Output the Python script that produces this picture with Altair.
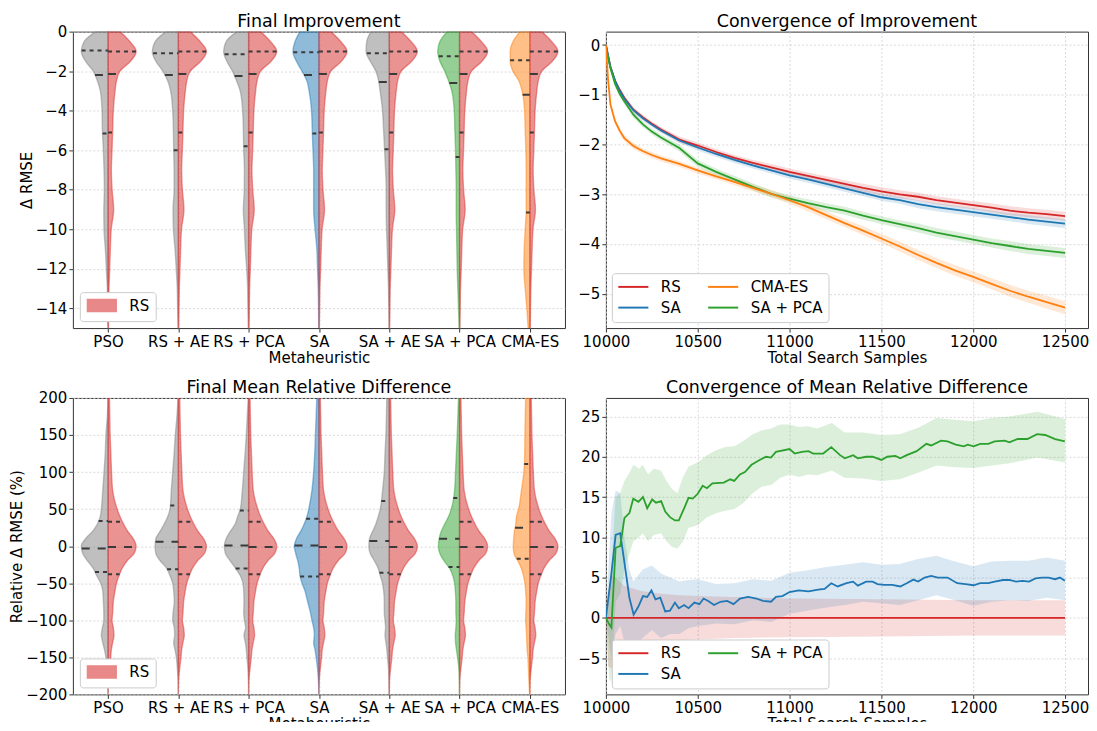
import altair as alt
import numpy as np
import pandas as pd

# ---------------- categories / colours ----------------
METHODS = ["PSO", "RS + AE", "RS + PCA", "SA", "SA + AE", "SA + PCA", "CMA-ES"]
METHOD_COLORS = ["#7f7f7f", "#7f7f7f", "#7f7f7f", "#1f77b4", "#7f7f7f", "#2ca02c", "#ff7f0e"]
RS_COLOR = "#d62728"
SERIES_COLORS = {"RS": "#d62728", "SA": "#1f77b4", "CMA-ES": "#ff7f0e", "SA + PCA": "#2ca02c"}

# ---------------- Final Improvement: violin half-widths (category units) ----------------
IMP_LEVELS = [0, -0.5, -1, -1.5, -2, -2.5, -3, -4, -5, -6, -7, -8, -9, -10, -11, -12, -13, -14, -15]
IMP_RS_W = [0.17, 0.31, 0.40, 0.32, 0.17, 0.12, 0.10, 0.075, 0.066, 0.057, 0.047, 0.058, 0.08, 0.045, 0.033, 0.024, 0.014, 0.01, 0.005]
IMP_PSO_W = [0.175, 0.34, 0.38, 0.32, 0.21, 0.15, 0.11, 0.085, 0.08, 0.066, 0.057, 0.052, 0.06, 0.057, 0.038, 0.024, 0.01, 0.005, 0.0]
IMP_RSAE_W = [0.175, 0.33, 0.37, 0.32, 0.22, 0.15, 0.11, 0.08, 0.07, 0.066, 0.06, 0.06, 0.075, 0.07, 0.047, 0.03, 0.015, 0.01, 0.004]
IMP_RSPCA_W = [0.165, 0.32, 0.355, 0.31, 0.23, 0.17, 0.12, 0.085, 0.075, 0.07, 0.06, 0.062, 0.075, 0.06, 0.047, 0.028, 0.014, 0.01, 0.004]
IMP_SA_W = [0.27, 0.34, 0.37, 0.32, 0.24, 0.17, 0.14, 0.105, 0.095, 0.085, 0.075, 0.075, 0.075, 0.055, 0.03, 0.02, 0.01, 0.005, 0.002]
IMP_SAAE_W = [0.26, 0.32, 0.33, 0.27, 0.19, 0.15, 0.13, 0.095, 0.08, 0.066, 0.052, 0.043, 0.043, 0.038, 0.028, 0.02, 0.01, 0.005, 0.002]
IMP_SAPCA_W = [0.175, 0.28, 0.31, 0.28, 0.21, 0.155, 0.11, 0.075, 0.066, 0.057, 0.052, 0.047, 0.047, 0.043, 0.038, 0.033, 0.024, 0.014, 0.006]
IMP_CMA_W = [0.14, 0.24, 0.28, 0.28, 0.24, 0.155, 0.11, 0.075, 0.066, 0.057, 0.052, 0.052, 0.052, 0.066, 0.08, 0.085, 0.066, 0.043, 0.024]
IMP_W = [IMP_PSO_W, IMP_RSAE_W, IMP_RSPCA_W, IMP_SA_W, IMP_SAAE_W, IMP_SAPCA_W, IMP_CMA_W]
IMP_Q3 = [-0.95, -1.1, -1.15, -1.05, -1.1, -1.25, -1.45]
IMP_MED = [-2.2, -2.2, -2.25, -2.2, -2.55, -2.6, -3.2]
IMP_Q1 = [-5.15, -6.0, -5.8, -5.15, -5.95, -6.35, -9.15]
IMP_RS_Q = [-1.0, -2.15, -5.1]

# ---------------- Final Mean Relative Difference: violin half-widths ----------------
REL_LEVELS = [200, 175, 150, 125, 100, 75, 50, 40, 30, 20, 10, 0, -10, -20, -30, -40, -50, -60, -75, -90, -100, -110, -120, -130, -140, -150, -165, -180, -200]
REL_RS_W = [0.02, 0.025, 0.03, 0.04, 0.05, 0.066, 0.13, 0.17, 0.22, 0.28, 0.36, 0.40, 0.37, 0.27, 0.2, 0.156, 0.12, 0.1, 0.075, 0.066, 0.057, 0.075, 0.085, 0.066, 0.047, 0.038, 0.02, 0.005, 0.0]
REL_PSO_W = [0, 0.01, 0.03, 0.04, 0.057, 0.075, 0.095, 0.11, 0.15, 0.22, 0.32, 0.38, 0.36, 0.29, 0.21, 0.16, 0.104, 0.075, 0.066, 0.06, 0.06, 0.08, 0.095, 0.075, 0.05, 0.03, 0.01, 0, 0]
REL_RSAE_W = [0.005, 0.02, 0.043, 0.06, 0.08, 0.1, 0.118, 0.15, 0.2, 0.26, 0.32, 0.33, 0.32, 0.255, 0.165, 0.118, 0.08, 0.066, 0.057, 0.075, 0.08, 0.057, 0.052, 0.066, 0.047, 0.028, 0.014, 0.004, 0]
REL_RSPCA_W = [0.005, 0.02, 0.033, 0.05, 0.07, 0.09, 0.118, 0.156, 0.19, 0.26, 0.32, 0.345, 0.33, 0.26, 0.185, 0.118, 0.08, 0.07, 0.066, 0.07, 0.06, 0.043, 0.066, 0.047, 0.033, 0.024, 0.01, 0.003, 0]
REL_SA_W = [0.03, 0.04, 0.05, 0.06, 0.075, 0.1, 0.145, 0.17, 0.21, 0.26, 0.32, 0.35, 0.33, 0.3, 0.28, 0.27, 0.24, 0.2, 0.16, 0.12, 0.1, 0.075, 0.065, 0.075, 0.055, 0.04, 0.02, 0.008, 0]
REL_SAAE_W = [0.035, 0.04, 0.047, 0.06, 0.07, 0.095, 0.128, 0.156, 0.19, 0.236, 0.28, 0.29, 0.27, 0.21, 0.156, 0.128, 0.095, 0.08, 0.07, 0.07, 0.06, 0.052, 0.06, 0.047, 0.033, 0.024, 0.01, 0.005, 0.003]
REL_SAPCA_W = [0.014, 0.024, 0.033, 0.045, 0.057, 0.07, 0.118, 0.156, 0.21, 0.26, 0.29, 0.3, 0.28, 0.22, 0.14, 0.095, 0.07, 0.06, 0.052, 0.052, 0.047, 0.052, 0.06, 0.057, 0.043, 0.028, 0.01, 0.003, 0]
REL_CMA_W = [0.06, 0.065, 0.07, 0.073, 0.085, 0.12, 0.16, 0.19, 0.2, 0.22, 0.23, 0.235, 0.225, 0.17, 0.12, 0.09, 0.07, 0.06, 0.052, 0.057, 0.06, 0.052, 0.047, 0.043, 0.038, 0.028, 0.02, 0.014, 0.003]
REL_W = [REL_PSO_W, REL_RSAE_W, REL_RSPCA_W, REL_SA_W, REL_SAAE_W, REL_SAPCA_W, REL_CMA_W]
REL_Q3 = [34, 55, 48, 37, 61, 65, 111]
REL_MED = [-3, 6, 1, 1, 7, 10, 25]
REL_Q1 = [-35, -31, -30, -41, -36, -28, -17]
REL_RS_Q = [33, -1, -38]

# ---------------- Convergence of Improvement ----------------
CONV_X = [10000, 10012, 10025, 10050, 10075, 10100, 10150, 10200, 10250, 10300, 10400, 10500, 10600, 10700, 10800, 10900,
          11000, 11100, 11200, 11300, 11400, 11500, 11600, 11700, 11800, 11900, 12000, 12100, 12200, 12300, 12400, 12500]
CONV_RS = [0, -0.22, -0.44, -0.72, -0.9, -1.06, -1.3, -1.45, -1.58, -1.7, -1.9, -2.02, -2.15, -2.27, -2.37, -2.46,
           -2.55, -2.63, -2.71, -2.79, -2.87, -2.94, -3.0, -3.05, -3.12, -3.17, -3.22, -3.27, -3.33, -3.37, -3.4, -3.44]
CONV_SA = [0, -0.22, -0.44, -0.72, -0.92, -1.08, -1.31, -1.47, -1.6, -1.72, -1.92, -2.06, -2.19, -2.31, -2.42, -2.52,
           -2.62, -2.7, -2.79, -2.88, -2.97, -3.06, -3.12, -3.2, -3.26, -3.31, -3.36, -3.41, -3.46, -3.51, -3.55, -3.59]
CONV_SAPCA = [0, -0.25, -0.47, -0.78, -0.98, -1.13, -1.4, -1.59, -1.74, -1.86, -2.07, -2.38, -2.55, -2.7, -2.85, -2.99,
              -3.09, -3.18, -3.26, -3.33, -3.43, -3.52, -3.6, -3.68, -3.77, -3.84, -3.91, -3.98, -4.04, -4.1, -4.14, -4.18]
CONV_CMA = [0, -0.7, -1.2, -1.53, -1.72, -1.87, -2.03, -2.13, -2.21, -2.28, -2.39, -2.52, -2.64, -2.75, -2.87, -2.99,
            -3.12, -3.26, -3.42, -3.58, -3.73, -3.89, -4.05, -4.22, -4.38, -4.53, -4.66, -4.8, -4.94, -5.06, -5.17, -5.28]
CONV_RS_SD = [0, 0.03, 0.04, 0.05, 0.05, 0.05, 0.05, 0.05, 0.05, 0.05, 0.06, 0.06, 0.06, 0.06, 0.06, 0.07,
              0.07, 0.07, 0.07, 0.07, 0.08, 0.08, 0.08, 0.08, 0.08, 0.08, 0.08, 0.09, 0.09, 0.09, 0.09, 0.09]
CONV_SA_SD = [0, 0.03, 0.04, 0.05, 0.05, 0.05, 0.05, 0.05, 0.05, 0.05, 0.05, 0.06, 0.06, 0.06, 0.06, 0.06,
              0.07, 0.07, 0.07, 0.07, 0.07, 0.07, 0.07, 0.08, 0.08, 0.08, 0.08, 0.08, 0.08, 0.09, 0.09, 0.09]
CONV_SAPCA_SD = [0, 0.03, 0.04, 0.05, 0.06, 0.06, 0.06, 0.06, 0.06, 0.06, 0.07, 0.07, 0.07, 0.07, 0.07, 0.07,
                 0.07, 0.08, 0.08, 0.08, 0.08, 0.08, 0.08, 0.09, 0.09, 0.09, 0.09, 0.09, 0.1, 0.1, 0.1, 0.1]
CONV_CMA_SD = [0, 0.05, 0.06, 0.06, 0.06, 0.06, 0.06, 0.06, 0.06, 0.06, 0.06, 0.06, 0.06, 0.07, 0.07, 0.07,
               0.07, 0.08, 0.08, 0.08, 0.09, 0.09, 0.1, 0.1, 0.1, 0.11, 0.11, 0.11, 0.12, 0.12, 0.13, 0.13]

# ---------------- Convergence of Mean Relative Difference ----------------
MRD_RS_X = [10000, 12500]
MRD_RS_Y = [0, 0]
MRD_SA_X = [10000, 10018, 10030, 10053, 10078, 10100, 10128, 10151, 10177, 10202, 10225, 10248, 10270, 10296, 10323,
            10349, 10376, 10397, 10426, 10450, 10482, 10509, 10532, 10557, 10589, 10624, 10660, 10695, 10730, 10775,
            10819, 10855, 10899, 10926, 10961, 11000, 11050, 11103, 11156, 11191, 11227, 11262, 11310, 11346, 11372,
            11417, 11452, 11479, 11514, 11559, 11603, 11638, 11674, 11700, 11736, 11771, 11807, 11860, 11913, 11958,
            12002, 12038, 12082, 12117, 12162, 12197, 12233, 12268, 12304, 12339, 12375, 12410, 12446, 12472, 12499]
MRD_SA_Y = [0, 3.3, 5.5, 10.3, 10.5, 7.0, 2.5, 0.4, 1.4, 2.7, 2.6, 3.4, 2.3, 2.5, 0.8,
            0.9, 1.9, 1.2, 1.6, 1.2, 1.9, 1.7, 2.4, 2.1, 1.6, 2.0, 2.1, 1.7, 2.4, 2.6,
            2.4, 2.1, 2.0, 2.6, 2.7, 3.2, 3.4, 3.3, 3.5, 3.6, 4.3, 3.9, 4.3, 4.5, 4.0,
            4.5, 4.5, 4.2, 4.1, 4.1, 3.9, 4.3, 4.75, 4.5, 5.0, 5.2, 5.0, 5.0, 4.3, 4.2,
            4.05, 4.3, 4.3, 4.5, 4.7, 4.7, 4.5, 4.6, 4.5, 4.9, 5.0, 5.0, 4.8, 5.0, 4.6]
MRD_SAPCA_X = [10000, 10018, 10030, 10053, 10078, 10101, 10128, 10149, 10177, 10202, 10225, 10252, 10273, 10301, 10323,
               10349, 10376, 10397, 10426, 10450, 10473, 10500, 10527, 10550, 10580, 10642, 10677, 10699, 10730, 10757,
               10793, 10837, 10872, 10899, 10926, 11000, 11028, 11067, 11103, 11129, 11183, 11227, 11275, 11301, 11346,
               11372, 11417, 11452, 11500, 11532, 11576, 11603, 11638, 11692, 11745, 11771, 11825, 11860, 11905, 11949,
               11970, 12002, 12038, 12082, 12117, 12171, 12197, 12242, 12295, 12348, 12392, 12446, 12499]
MRD_SAPCA_Y = [0, -0.8, -1.2, 8.7, 8.9, 12.4, 13.0, 14.8, 14.4, 15.0, 13.6, 14.7, 14.3, 14.5, 13.2,
               12.5, 12.1, 12.1, 13.6, 14.9, 14.8, 15.4, 16.4, 16.1, 16.7, 16.8, 17.2, 17.0, 17.8, 18.1,
               19.0, 19.6, 20.0, 19.9, 20.6, 20.95, 20.4, 20.6, 20.7, 20.4, 20.4, 21.2, 20.2, 19.8, 20.2,
               19.8, 20.0, 20.0, 19.6, 20.0, 20.1, 19.8, 20.2, 20.7, 21.6, 21.4, 22.0, 21.9, 21.5, 21.3,
               21.5, 21.3, 21.6, 21.6, 21.9, 22.0, 21.8, 22.2, 22.2, 22.8, 22.7, 22.2, 21.9]
# confidence bands (lower / upper edges)
MRD_RS_BX = [10000, 10012, 10030, 10053, 10080, 10100, 10150, 10200, 10300, 10400, 10500, 10700, 11000, 11500, 12000, 12500]
MRD_RS_LO = [0, -6.0, -6.3, -5.5, -4.6, -4.1, -3.5, -3.2, -3.0, -2.8, -2.7, -2.5, -2.4, -2.3, -2.2, -2.2]
MRD_RS_HI = [0, 3.0, 5.3, 5.0, 4.4, 4.0, 3.6, 3.3, 3.0, 2.8, 2.7, 2.6, 2.4, 2.3, 2.2, 2.2]
MRD_SA_BX = [10000, 10018, 10030, 10053, 10078, 10101, 10128, 10150, 10200, 10250, 10300, 10350, 10400, 10450, 10500,
             10600, 10700, 10800, 10900, 11000, 11100, 11200, 11300, 11400, 11500, 11600, 11700, 11800, 11900, 12000,
             12100, 12200, 12300, 12400, 12500]
MRD_SA_LO = [0, -3, -5, -2, -1, -3, -4, -3.5, -2.5, -1.5, -2.5, -2, -2, -1.3, -1,
             -0.7, -0.8, -0.3, -0.5, 0.5, 0.9, 1.3, 1.6, 2.0, 1.8, 1.6, 2.2, 2.8, 2.2, 1.5,
             2.0, 2.2, 2.1, 2.5, 2.2]
MRD_SA_HI = [0, 8, 13, 15.8, 15.5, 10, 6, 4.5, 6, 6.5, 5.5, 5, 4.5, 4.7, 4.8,
             4.2, 4.3, 4.8, 4.6, 5.6, 5.9, 6.3, 6.6, 6.9, 6.6, 6.7, 7.3, 7.7, 7.0, 6.4,
             7.0, 7.1, 7.1, 7.5, 7.1]
MRD_SAPCA_BX = [10000, 10018, 10030, 10053, 10078, 10101, 10128, 10150, 10180, 10200, 10230, 10260, 10300, 10330, 10360,
                10390, 10420, 10450, 10500, 10550, 10600, 10650, 10700, 10750, 10800, 10850, 10900, 10950, 11000, 11050,
                11100, 11150, 11230, 11300, 11400, 11500, 11600, 11700, 11800, 11900, 12000, 12100, 12200, 12350, 12500]
MRD_SAPCA_LO = [0, -7.5, -8, 2, 3, 6, 8, 9.5, 10, 10.5, 9.5, 10.3, 10.5, 9.5, 8.8,
                8.6, 9.5, 11.2, 11.5, 12.5, 13, 13.3, 13.5, 14.3, 15.5, 16.3, 16.5, 17.4, 17.8, 17.5,
                17.8, 17.7, 18.3, 17.4, 17.3, 17.0, 17.2, 18.0, 18.9, 18.7, 18.6, 18.9, 19.2, 19.9, 19.3]
MRD_SAPCA_HI = [0, 4, 6, 15, 15.5, 17, 18, 19, 18.5, 19, 17.8, 18.5, 18.3, 17, 16,
                15.5, 17.5, 18.8, 19.3, 20.2, 20.8, 21.2, 21.3, 22, 22.8, 23.3, 23.5, 24, 24, 23.7,
                23.8, 23.5, 24.2, 23, 23, 22.7, 22.8, 23.6, 24.8, 24.6, 24.4, 24.8, 25, 25.6, 24.7]

# ---------------- layout constants ----------------
W_L, W_R, H = 493, 483, 297
X_MAX = 12625
FONT = "DejaVu Sans"
LABEL_EXPR = "[" + ",".join("'%s'" % m for m in METHODS) + "][datum.value]"


def violin_panel(levels, rs_w, widths, q3, med, q1, rs_q, ydom, yvals, ytitle, title):
    lev_asc = levels[::-1]
    lrows, rrows, qrows = [], [], []
    rs_asc = rs_w[::-1]
    for i, m in enumerate(METHODS):
        w = widths[i]
        for lv, wv in zip(levels, w):
            lrows.append({"grp": m, "y": lv, "x": i - wv, "x2": i, "col": METHOD_COLORS[i]})
        for lv, wv in zip(levels, rs_w):
            rrows.append({"grp": m, "y": lv, "x": i, "x2": i + wv, "series": "RS"})
        w_asc = w[::-1]
        for val, kind in ((q3[i], "quart"), (med[i], "median"), (q1[i], "quart")):
            hw = float(np.interp(val, lev_asc, w_asc))
            qrows.append({"x": i - hw, "x2": i, "y": val, "kind": kind})
        for val, kind in zip(rs_q, ("quart", "median", "quart")):
            hw = float(np.interp(val, lev_asc, rs_asc))
            qrows.append({"x": i, "x2": i + hw, "y": val, "kind": kind})

    xs = alt.Scale(domain=[-0.5, 6.5], nice=False, zero=False)
    ys = alt.Scale(domain=ydom, nice=False, zero=False)
    xax = alt.Axis(values=list(range(7)), labelExpr=LABEL_EXPR, title="Metaheuristic",
                   labelOverlap=False, labelFlush=False, labelBound=False)
    yax = alt.Axis(values=yvals, title=ytitle, labelOverlap=False)
    X = alt.X("x:Q", scale=xs, axis=xax)
    Y = alt.Y("y:Q", scale=ys, axis=yax)

    left = alt.Chart(pd.DataFrame(lrows)).mark_area(
        orient="horizontal", interpolate="monotone", clip=True,
        fillOpacity=0.5, strokeOpacity=0.45, strokeWidth=1.4
    ).encode(
        y=Y, x=X, x2="x2:Q",
        fill=alt.Fill("col:N", scale=None),
        stroke=alt.Stroke("col:N", scale=None),
        detail="grp:N",
    )
    right = alt.Chart(pd.DataFrame(rrows)).mark_area(
        orient="horizontal", interpolate="monotone", clip=True,
        fillOpacity=0.5, stroke=RS_COLOR, strokeOpacity=0.45, strokeWidth=1.4
    ).encode(
        y=Y, x=X, x2="x2:Q",
        color=alt.Color("series:N", scale=alt.Scale(domain=["RS"], range=[RS_COLOR]),
                        legend=alt.Legend(title=None, orient="bottom-left", offset=7,
                                          symbolType="M-2.4,-1L2.4,-1L2.4,1L-2.4,1Z",
                                          symbolSize=144, symbolOffset=8.5, labelOffset=20,
                                          symbolOpacity=0.55, symbolStrokeColor=RS_COLOR,
                                          symbolStrokeWidth=1.5, padding=6)),
        detail="grp:N",
    )
    rules = alt.Chart(pd.DataFrame(qrows)).mark_rule(color="#3a3a3a", strokeWidth=2, clip=True).encode(
        x=X, x2="x2:Q", y=Y,
        strokeDash=alt.StrokeDash("kind:N", scale=alt.Scale(domain=["quart", "median"], range=[[4, 4], [8, 8]]),
                                  legend=None),
    )
    return alt.layer(left, right, rules).properties(
        width=W_L, height=H, title=alt.TitleParams(title, anchor="middle", offset=-6))


def line_panel(lines, bands, order, ydom, yvals, title):
    lrows, brows = [], []
    for name, xs_, ys_ in lines:
        for x, y in zip(xs_, ys_):
            lrows.append({"name": name, "x": x, "y": y})
    for name, xs_, lo, hi in bands:
        for x, a, b in zip(xs_, lo, hi):
            brows.append({"series": name, "x": x, "lo": a, "hi": b})
    xsc = alt.Scale(domain=[10000, X_MAX], nice=False, zero=False)
    ysc = alt.Scale(domain=ydom, nice=False, zero=False)
    xax = alt.Axis(values=list(range(10000, 12501, 500)), format="d", title="Total Search Samples",
                   labelFlush=False, labelOverlap=False)
    yax = alt.Axis(values=yvals, title=None, labelOverlap=False)
    X = alt.X("x:Q", scale=xsc, axis=xax)
    rng = [SERIES_COLORS[s] for s in order]
    legend = alt.Legend(title=None, orient="bottom-left", offset=6, columns=2, columnPadding=26,
                        symbolType="M-2.15,-0.14L2.15,-0.14L2.15,0.14L-2.15,0.14Z",
                        symbolSize=196, symbolOffset=8, labelOffset=20, symbolOpacity=1, symbolStrokeWidth=0,
                        rowPadding=5, padding=6)
    band = alt.Chart(pd.DataFrame(brows)).mark_area(fillOpacity=0.17, clip=True).encode(
        x=X,
        y=alt.Y("lo:Q", scale=ysc, axis=yax),
        y2="hi:Q",
        color=alt.Color("series:N", scale=alt.Scale(domain=order, range=rng), legend=legend),
    )
    line = alt.Chart(pd.DataFrame(lrows)).mark_line(strokeWidth=1.8, clip=True).encode(
        x=X, y=alt.Y("y:Q", scale=ysc, axis=yax),
        stroke=alt.Stroke("name:N", scale=alt.Scale(domain=order, range=rng), legend=None),
    )
    return alt.layer(band, line).properties(
        width=W_R, height=H, title=alt.TitleParams(title, anchor="middle", offset=1))


tl = violin_panel(IMP_LEVELS, IMP_RS_W, IMP_W, IMP_Q3, IMP_MED, IMP_Q1, IMP_RS_Q,
                  [-15, 0], list(range(-14, 1, 2)), "Δ RMSE", "Final Improvement")
bl = violin_panel(REL_LEVELS, REL_RS_W, REL_W, REL_Q3, REL_MED, REL_Q1, REL_RS_Q,
                  [-200, 200], list(range(-200, 201, 50)), "Relative Δ RMSE (%)", "Final Mean Relative Difference")

top_lines = [("RS", CONV_X, CONV_RS), ("SA", CONV_X, CONV_SA), ("SA + PCA", CONV_X, CONV_SAPCA), ("CMA-ES", CONV_X, CONV_CMA)]
top_bands = []
for name, mean, sd in (("RS", CONV_RS, CONV_RS_SD), ("SA", CONV_SA, CONV_SA_SD),
                       ("SA + PCA", CONV_SAPCA, CONV_SAPCA_SD), ("CMA-ES", CONV_CMA, CONV_CMA_SD)):
    top_bands.append((name, CONV_X, [m - s for m, s in zip(mean, sd)], [m + s for m, s in zip(mean, sd)]))
tr = line_panel(top_lines, top_bands, ["RS", "SA", "CMA-ES", "SA + PCA"], [-5.69, 0.27], list(range(-5, 1)),
                "Convergence of Improvement")

bot_lines = [("RS", MRD_RS_X, MRD_RS_Y), ("SA", MRD_SA_X, MRD_SA_Y), ("SA + PCA", MRD_SAPCA_X, MRD_SAPCA_Y)]
bot_bands = [("RS", MRD_RS_BX, MRD_RS_LO, MRD_RS_HI), ("SA", MRD_SA_BX, MRD_SA_LO, MRD_SA_HI),
             ("SA + PCA", MRD_SAPCA_BX, MRD_SAPCA_LO, MRD_SAPCA_HI)]
br = line_panel(bot_lines, bot_bands, ["RS", "SA", "SA + PCA"], [-9.5, 27.3], list(range(-5, 26, 5)),
                "Convergence of Mean Relative Difference")

chart = alt.concat(tl, tr, bl, br, columns=2, spacing={"row": 70, "column": 41}, bounds="flush").resolve_scale(
    color="independent", stroke="independent", fill="independent", strokeDash="independent"
).resolve_legend(
    color="independent", stroke="independent", fill="independent"
).properties(
    padding={"left": 1, "top": 4, "right": -1, "bottom": -11}
).configure(font=FONT).configure_view(
    stroke="#333333", strokeWidth=1
).configure_axis(
    labelFont=FONT, labelFontSize=15, labelColor="black", titleFont=FONT, titleFontSize=15,
    titleFontWeight="normal", titleColor="black", domain=False, tickColor="#333333", tickSize=4,
    labelPadding=2, titlePadding=1, grid=True, gridColor="#cfcfcf", gridDash=[2, 2], gridWidth=0.8
).configure_title(
    font=FONT, fontSize=17.5, fontWeight="normal", color="black"
).configure_legend(
    labelFont=FONT, labelFontSize=15, labelColor="black", fillColor="white", strokeColor="#cccccc",
    cornerRadius=3
)

chart.save("out.html", embed_options={"renderer": "svg", "actions": False})
